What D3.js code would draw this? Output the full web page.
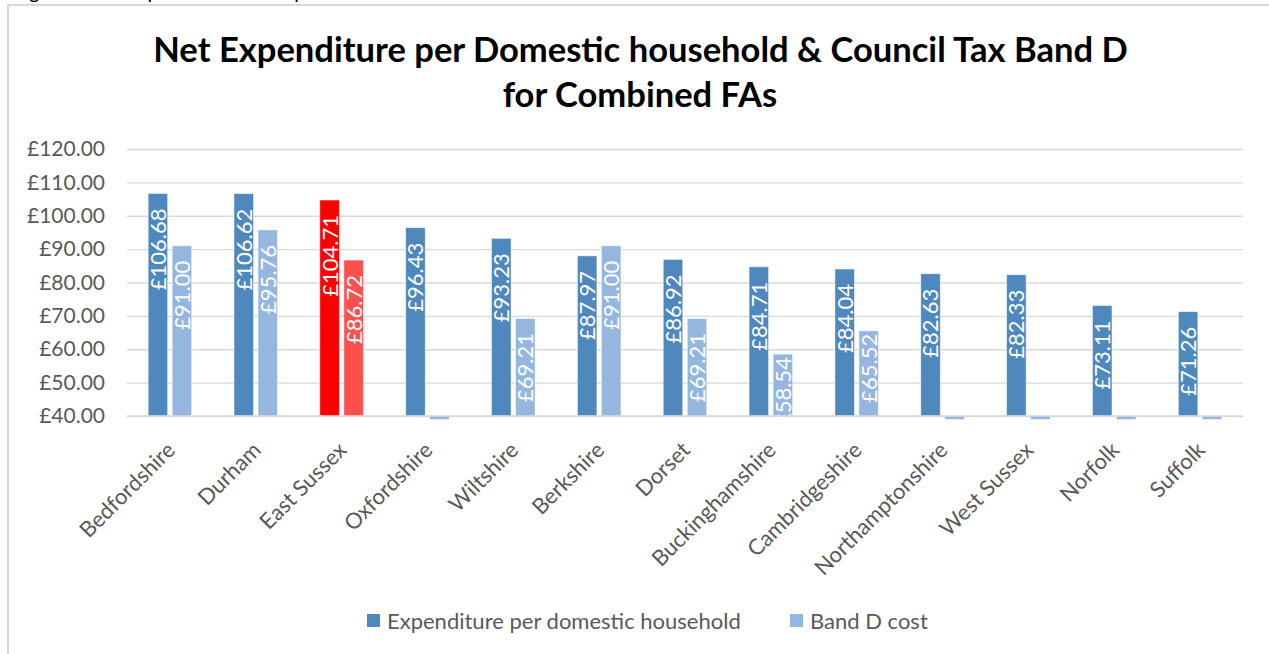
<!DOCTYPE html>
<html>
<head>
<meta charset="utf-8">
<script src="https://cdn.jsdelivr.net/npm/d3@7"></script>
<style>
  body { margin: 0; background: #fff; }
  svg { display: block; }
  text { font-family: Lato, "Open Sans", "Liberation Sans", sans-serif; }
</style>
</head>
<body>
<svg id="chart" width="1269" height="654"></svg>
<script>
// Fire authorities, ordered by expenditure per household
const categories = ["Bedfordshire", "Durham", "East Sussex", "Oxfordshire", "Wiltshire", "Berkshire",
  "Dorset", "Buckinghamshire", "Cambridgeshire", "Northamptonshire", "West Sussex", "Norfolk", "Suffolk"];
const expenditure = [106.68, 106.62, 104.71, 96.43, 93.23, 87.97, 86.92, 84.71, 84.04, 82.63, 82.33, 73.11, 71.26];
const bandDCost = [91.00, 95.76, 86.72, 0, 69.21, 91.00, 69.21, 58.54, 65.52, 0, 0, 0, 0];
const seriesNames = ["Expenditure per domestic household", "Band D cost"];
const yTicks = [40, 50, 60, 70, 80, 90, 100, 110, 120];
const highlighted = "East Sussex";

const seriesColors = ["#4f88bc", "#95b7df"];
const highlightColors = ["#ff0000", "#ff5050"];
const gridColor = "#d9d9d9";
const axisTextColor = "#595959";

const svg = d3.select("#chart");
const fmt = v => "£" + d3.format(".2f")(v);

// outer frame of the chart object
svg.append("rect")
  .attr("x", 8).attr("y", 5).attr("width", 1300).attr("height", 700)
  .attr("fill", "#fff").attr("stroke", gridColor).attr("stroke-width", 2);

// caption line of the surrounding document, cut off at the top edge
svg.append("text")
  .attr("x", 13).attr("y", -1)
  .attr("font-size", 20).attr("fill", "#000")
  .text("Figure 12: Comparison of net expenditure");

// scales
const plot = { left: 127, right: 1243, top: 149, bottom: 416 };
const y = d3.scaleLinear().domain([40, 120]).range([plot.bottom, plot.top]);
const x0 = d3.scaleBand().domain(categories).range([plot.left, plot.right])
  .paddingInner(0.493).paddingOuter(0.2465);
const x1 = d3.scaleBand().domain([0, 1]).range([0, x0.bandwidth()]).paddingInner(0.1875);

// title
const title = svg.append("g").attr("font-weight", 700).attr("fill", "#000");
const t1 = title.append("text").attr("x", 640.5).attr("y", 62).attr("text-anchor", "middle")
  .attr("font-size", 30).text("Net Expenditure per Domestic household & Council Tax Band D");
const fitted = 30 * 975 / t1.node().getComputedTextLength();
t1.attr("font-size", fitted);
title.append("text").attr("x", 640).attr("y", 107).attr("text-anchor", "middle")
  .attr("font-size", fitted).text("for Combined FAs");

// gridlines and y labels
const yAxis = d3.axisLeft(y).tickValues(yTicks).tickSize(-(plot.right - plot.left)).tickFormat(fmt);
const yg = svg.append("g").attr("transform", `translate(${plot.left},0)`).call(yAxis);
yg.select(".domain").remove();
yg.selectAll(".tick line").attr("stroke", gridColor).attr("stroke-width", 1.3);
yg.selectAll(".tick text").attr("fill", axisTextColor).attr("font-size", 21)
  .attr("font-family", "Lato, 'Open Sans', sans-serif").attr("x", -22);

// clip region for bars and their labels (one unit below the axis floor)
svg.append("clipPath").attr("id", "plotClip").append("rect")
  .attr("x", plot.left).attr("y", y(120))
  .attr("width", plot.right - plot.left).attr("height", y(39) - y(120));

const rows = categories.map((c, i) => ({ cat: c, values: [expenditure[i], bandDCost[i]] }));
const bars = [];
rows.forEach(r => r.values.forEach((v, s) => bars.push({ cat: r.cat, s, v })));

const barLayer = svg.append("g").attr("clip-path", "url(#plotClip)");
const colorOf = d => (d.cat === highlighted ? highlightColors : seriesColors)[d.s];

barLayer.selectAll("rect.bar").data(bars).join("rect")
  .attr("class", "bar")
  .attr("x", d => x0(d.cat) + x1(d.s))
  .attr("width", x1.bandwidth())
  .attr("y", d => Math.min(y(d.v), y(40)))
  .attr("height", d => Math.abs(y(40) - y(d.v)))
  .attr("fill", colorOf)
  .attr("stroke", "#ffffff").attr("stroke-opacity", 0.6).attr("stroke-width", 0.8);

// axis floor line
svg.append("line")
  .attr("x1", plot.left).attr("x2", plot.right)
  .attr("y1", y(40)).attr("y2", y(40))
  .attr("stroke", gridColor).attr("stroke-width", 1.3);

// value labels, rotated and sitting inside the top of each bar
const labels = barLayer.selectAll("text.val").data(bars.filter(d => d.v >= 40)).join("text")
  .attr("class", "val")
  .attr("text-anchor", "end")
  .attr("dy", "0.36em")
  .attr("font-size", 22)
  .attr("fill", "#fff")
  .text(d => fmt(d.v));
labels.attr("transform", function (d) {
  const len = this.getComputedTextLength();
  const top = y(d.v);
  const h = y(40) - top;
  const off = Math.max(3, Math.min(15, h - len - 14));
  const cx = x0(d.cat) + x1(d.s) + x1.bandwidth() / 2;
  return `translate(${cx},${top + off}) rotate(-90)`;
});

// category labels
svg.append("g").selectAll("text").data(categories).join("text")
  .attr("transform", d => `translate(${x0(d) + x0.bandwidth() / 2 + 1},446) rotate(-45)`)
  .attr("text-anchor", "end")
  .attr("dy", "0.35em")
  .attr("font-size", 22)
  .attr("fill", axisTextColor)
  .text(d => d);

// legend
const legend = svg.append("g");
const legendX = [367, 790];
seriesNames.forEach((name, i) => {
  legend.append("rect").attr("x", legendX[i]).attr("y", 614).attr("width", 13).attr("height", 13)
    .attr("fill", seriesColors[i]);
  legend.append("text").attr("x", legendX[i] + 20).attr("y", 629)
    .attr("font-size", 22).attr("fill", axisTextColor).text(name);
});
</script>
</body>
</html>
